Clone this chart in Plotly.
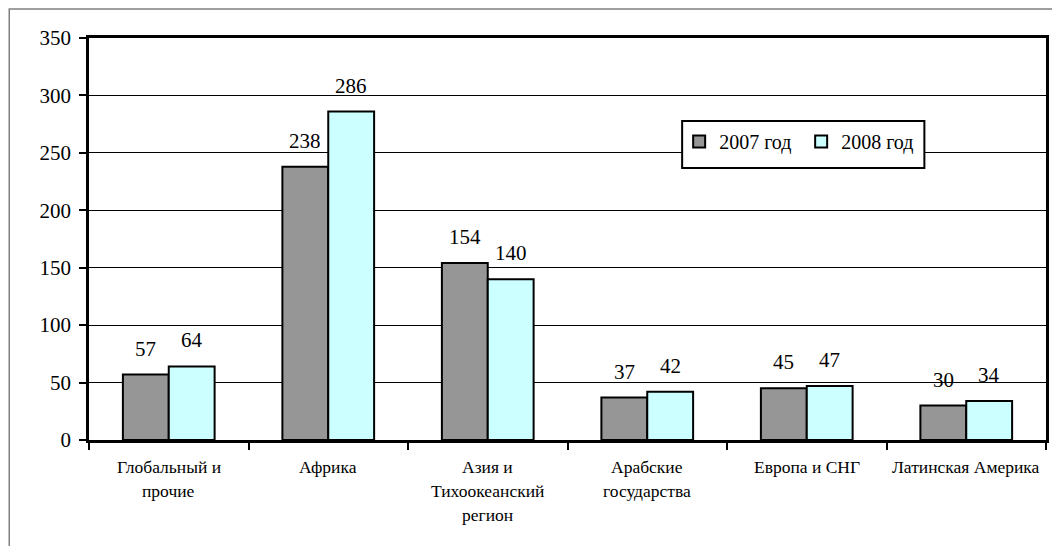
import plotly.graph_objects as go

categories = ["Глобальный и прочие", "Африка", "Азия и Тихоокеанский регион",
              "Арабские государства", "Европа и СНГ", "Латинская Америка"]
label_lines = [["Глобальный и", "прочие"], ["Африка"], ["Азия и", "Тихоокеанский", "регион"],
               ["Арабские", "государства"], ["Европа и СНГ"], ["Латинская Америка"]]
series_names = ["2007 год", "2008 год"]
values_2007 = [57, 238, 154, 37, 45, 30]
values_2008 = [64, 286, 140, 42, 47, 34]
y_ticks = [0, 50, 100, 150, 200, 250, 300, 350]

colors = ["#969696", "#CCFFFF"]
FONT = "Liberation Serif"

OFF = 8  # page body margin
W, H = 1060 - OFF, 546 - OFF
ML, MR, MT, MB = 89 - OFF, 11, 38 - OFF, 106
pw = W - ML - MR
ph = H - MT - MB
bargap = 0.425
group_px = pw / len(categories)
bar_px = group_px * (1 - bargap) / 2


def px_x(x):  # screen x -> paper
    return (x - OFF - ML) / pw


def px_y(y):  # screen y -> paper
    return (H - MB - (y - OFF)) / ph


fig = go.Figure()
for name, vals, col in zip(series_names, [values_2007, values_2008], colors):
    fig.add_trace(go.Bar(
        x=categories, y=vals, name=name,
        marker=dict(color=col, line=dict(color="black", width=2)),
    ))

annotations = []
for si, vals in enumerate([values_2007, values_2008]):
    shift = (-0.5 + si) * bar_px
    for c, v in zip(categories, vals):
        annotations.append(dict(x=c, y=v, xref="x", yref="y", text=str(v),
                                showarrow=False, xshift=shift, yshift=12,
                                yanchor="bottom",
                                font=dict(family=FONT, size=21, color="black")))
for c, lines in zip(categories, label_lines):
    for li, line in enumerate(lines):
        annotations.append(dict(x=c, y=0, xref="x", yref="paper", text=line,
                                showarrow=False, yanchor="middle",
                                yshift=-27 - 24 * li,
                                font=dict(family=FONT, size=17.5, color="black")))

fig.update_layout(
    width=W, height=H,
    margin=dict(l=ML, r=MR, t=MT, b=MB),
    paper_bgcolor="white", plot_bgcolor="white",
    barmode="group", bargap=bargap, bargroupgap=0,
    showlegend=True,
    legend=dict(orientation="h", x=px_x(681), y=px_y(122),
                xanchor="left", yanchor="top",
                bgcolor="rgba(0,0,0,0)", borderwidth=0,
                font=dict(family=FONT, size=20, color="black"),
                entrywidth=77, traceorder="normal"),
    annotations=annotations,
    shapes=[
        dict(type="rect", xref="paper", yref="paper",
             x0=px_x(9), y0=px_y(560), x1=px_x(1080), y1=px_y(9),
             line=dict(color="#808080", width=1.5), layer="below"),
        dict(type="rect", xref="paper", yref="paper",
             x0=px_x(684), y0=px_y(168), x1=px_x(927), y1=px_y(121),
             line=dict(color="black", width=2), fillcolor="white", layer="above"),
    ],
)
fig.update_xaxes(
    showticklabels=False, tickson="boundaries", ticks="outside", ticklen=7,
    tickwidth=2, tickcolor="black", showline=True, linecolor="black",
    linewidth=2.5, mirror=True, showgrid=False,
)
fig.update_yaxes(
    range=[0, 350], tickvals=y_ticks, ticks="outside", ticklen=7,
    tickwidth=1.5, tickcolor="black", showline=True, linecolor="black",
    linewidth=2.5, mirror=True, showgrid=True, gridcolor="black", gridwidth=1,
    zeroline=False, ticklabelstandoff=4,
    tickfont=dict(family=FONT, size=21, color="black"),
)
fig.write_html("out.html")
